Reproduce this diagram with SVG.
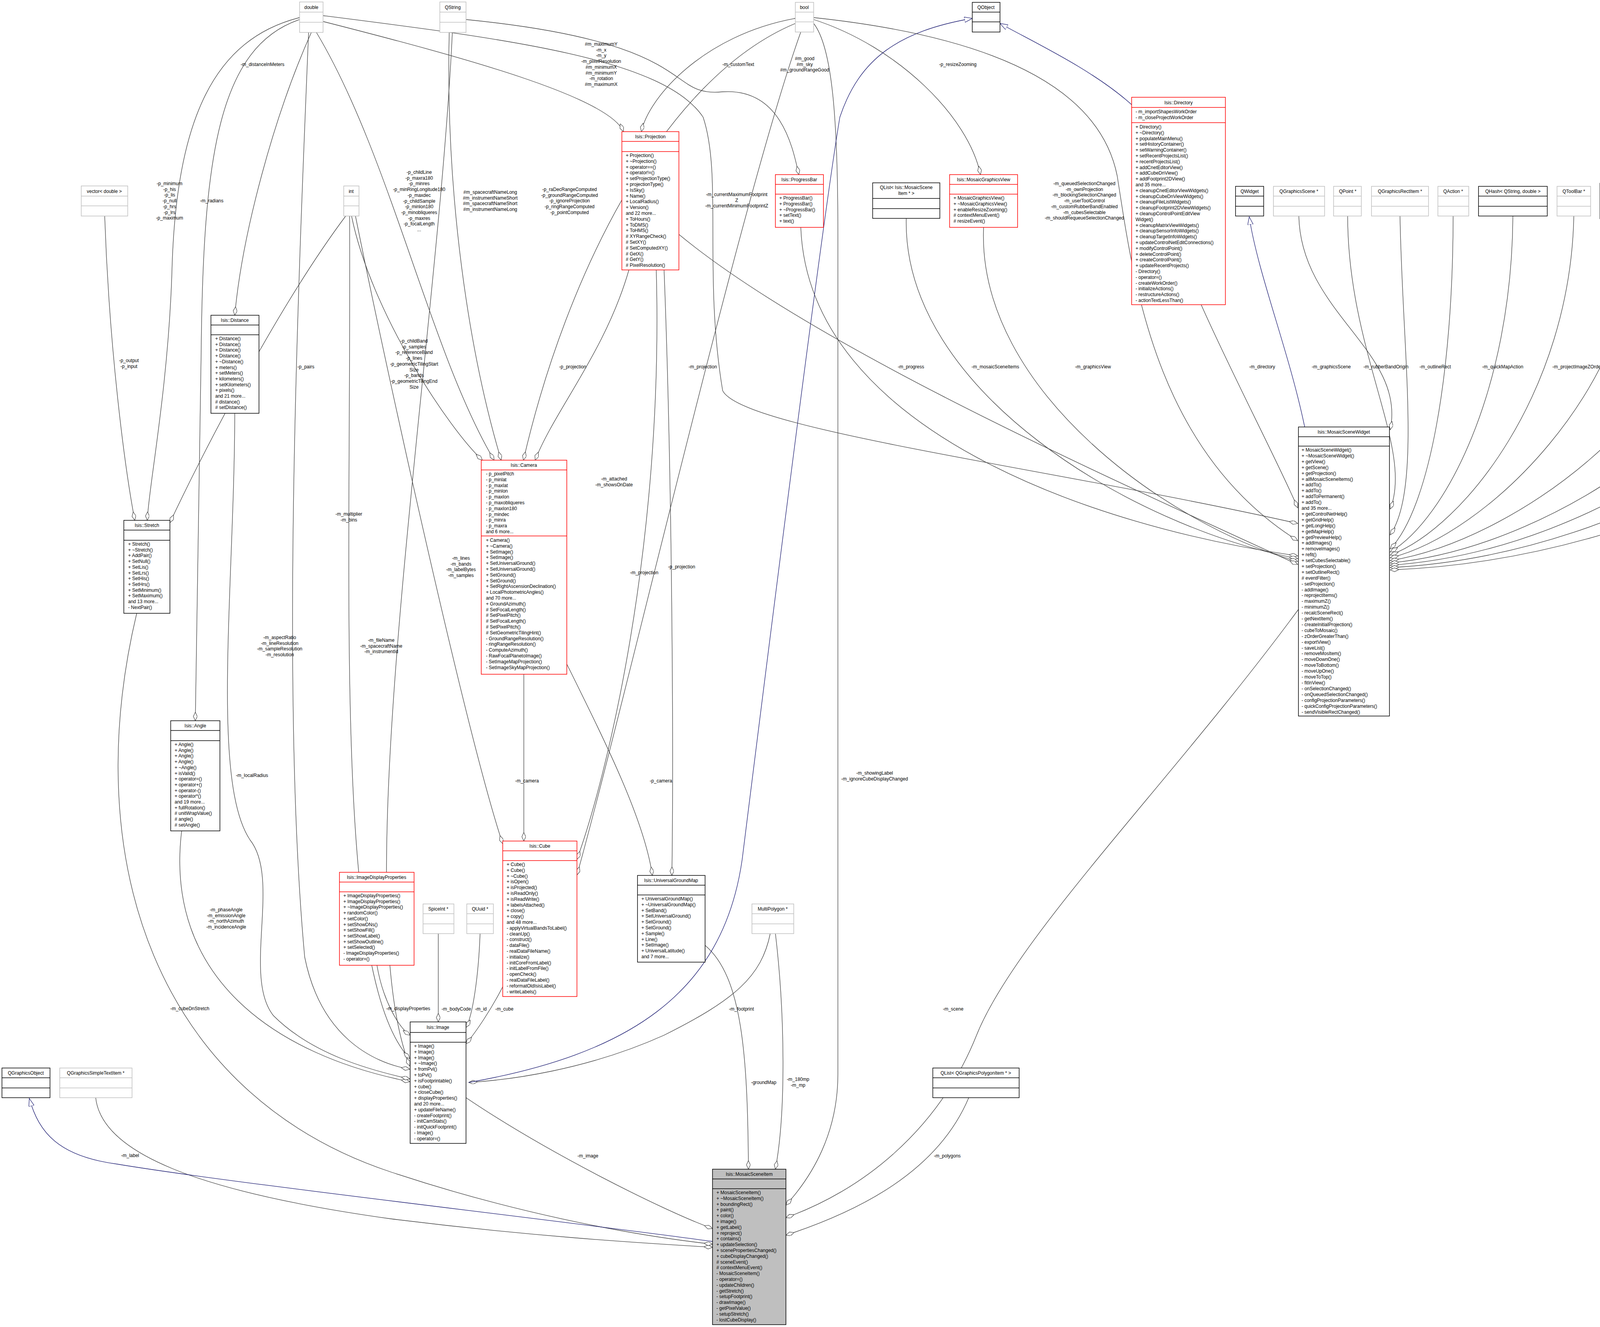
<svg xmlns="http://www.w3.org/2000/svg" width="5173" height="3397" viewBox="0 0 5173 3397">
<style>
text{font-family:"Liberation Sans",Arial,Helvetica,sans-serif;font-size:12px;fill:#000}
.c{text-anchor:middle}
.g{fill:#fff;stroke:#bfbfbf;stroke-width:1.5}
.k{fill:#fff;stroke:#000;stroke-width:1.5}
.r{fill:#fff;stroke:#f00;stroke-width:1.5}
.s{fill:#bfbfbf;stroke:#000;stroke-width:1.5}
.gl{stroke:#bfbfbf;stroke-width:1.5}
.kl{stroke:#000;stroke-width:1.5}
.rl{stroke:#f00;stroke-width:1.5}
.e{fill:none;stroke:#404040;stroke-width:1.3;marker-end:url(#dia)}
.i{fill:none;stroke:#191970;stroke-width:1.3;marker-end:url(#tri)}
</style>
<defs>
<marker id="dia" markerUnits="userSpaceOnUse" markerWidth="24" markerHeight="12" refX="22" refY="5" orient="auto"><path d="M0,5 L11,0 L22,5 L11,10 Z" fill="#fff" stroke="#404040" stroke-width="1.2"/></marker>
<marker id="tri" markerUnits="userSpaceOnUse" markerWidth="22" markerHeight="16" refX="20" refY="7" orient="auto"><path d="M0,0 L20,7 L0,14 Z" fill="#fff" stroke="#191970" stroke-width="1.2"/></marker>
</defs>
<rect width="5173" height="3397" fill="#fff"/>
<g id="edges">
<path class="e" d="M827,55 C1200,150 1560,250 1596,337"/>
<path class="e" d="M2036,47 C1800,90 1660,250 1642,337"/>
<path class="e" d="M1193,50 C1800,110 1700,250 1850,235 C2000,225 2030,380 2045,447"/>
<path class="e" d="M2083,50 C2300,120 2480,300 2510,447"/>
<path class="e" d="M810,83 C1000,400 1100,900 1265,1178"/>
<path class="e" d="M1150,83 C1140,500 1200,900 1283,1178"/>
<path class="e" d="M2036,60 C1700,200 1450,700 1340,1178"/>
<path class="e" d="M900,553 C950,800 1150,1100 1235,1178"/>
<path class="e" d="M1610,691 C1550,900 1420,1050 1370,1178"/>
<path class="e" d="M268,553 C280,900 320,1200 345,1332"/>
<path class="e" d="M767,45 C550,100 450,300 440,700 C430,1000 380,1250 377,1332"/>
<path class="e" d="M885,553 C700,800 500,1200 435,1338"/>
<path class="e" d="M797,83 C700,300 620,600 601,807"/>
<path class="e" d="M767,50 C560,120 520,400 515,900 C510,1400 500,1700 500,1845"/>
<path class="e" d="M910,553 C1000,1000 1200,1900 1287,2160"/>
<path class="e" d="M1341,1726 L1341,2153"/>
<path class="e" d="M1680,691 C1700,1400 1550,2000 1477,2200"/>
<path class="e" d="M2050,82 C1900,500 1600,1800 1477,2240"/>
<path class="e" d="M1451,1700 C1550,1900 1650,2100 1670,2241"/>
<path class="e" d="M1700,691 C1720,1200 1725,1900 1720,2241"/>
<path class="e" d="M965,2471 C980,2560 1020,2630 1050,2650"/>
<path class="e" d="M1122,2390 L1122,2616"/>
<path class="e" d="M1229,2390 C1225,2500 1210,2600 1193,2630"/>
<path class="e" d="M1290,2520 C1260,2580 1220,2640 1193,2672"/>
<path class="e" d="M465,2127 C420,2500 700,2700 1049,2769"/>
<path class="e" d="M601,1058 C600,1500 540,2000 640,2150 C720,2250 620,2500 700,2600 C800,2700 950,2740 1049,2762"/>
<path class="e" d="M790,83 C760,800 720,1800 780,2450 C820,2650 950,2720 1049,2737"/>
<path class="e" d="M1158,83 C1120,900 880,2300 1049,2729"/>
<path class="e" d="M895,553 C900,1500 850,2500 1049,2710"/>
<path class="e" d="M1193,2810 C1400,2950 1700,3100 1824,3145"/>
<path class="e" d="M1972,2389 C1950,2500 1880,2560 1700,2650 C1500,2740 1300,2765 1200,2771"/>
<path class="e" d="M1805,2420 C1900,2500 1914,2700 1916,2993"/>
<path class="e" d="M1985,2389 C2010,2600 2012,2850 1985,2993"/>
<path class="e" d="M2083,60 C2130,120 2145,300 2145,600 L2145,2750 C2145,2900 2080,3010 2012,3085"/>
<path class="e" d="M3324,1560 C3000,2000 2600,2400 2500,2650 C2400,2900 2200,3050 2012,3117"/>
<path class="e" d="M2480,2810 C2400,3000 2200,3100 2012,3162"/>
<path class="e" d="M245,2810 C260,2950 500,3050 1000,3120 C1400,3170 1700,3185 1824,3193"/>
<path class="e" d="M350,1570 C200,2200 400,2800 1000,3000 C1300,3100 1600,3160 1824,3185"/>
<path class="i" d="M1824,3178 C1400,3120 600,3030 300,2980 C150,2960 100,2900 75,2812"/>
<path class="i" d="M1200,2771 C1600,2700 1850,2550 1900,2200 C1950,1800 2100,600 2150,300 C2200,150 2300,80 2489,47"/>
<path class="i" d="M2897,268 C2800,180 2650,110 2560,60"/>
<path class="i" d="M3340,1093 C3300,900 3220,700 3198,555"/>
<path class="e" d="M3075,780 C3150,950 3280,1200 3322,1300"/>
<path class="e" d="M2083,45 C2600,100 2820,250 2860,450 C2900,700 2950,1150 3322,1384"/>
<path class="e" d="M827,40 C1300,100 1700,150 1800,300 C1850,450 1800,700 1850,1000 C1900,1100 2700,1200 3322,1340"/>
<path class="e" d="M2050,582 C2070,1100 2800,1350 3322,1423"/>
<path class="e" d="M2320,559 C2310,1000 2900,1350 3322,1430"/>
<path class="e" d="M2518,582 C2500,1000 3000,1350 3322,1437"/>
<path class="e" d="M1738,600 C2100,900 2900,1250 3322,1445"/>
<path class="e" d="M3325,553 C3330,800 3600,900 3559,1100"/>
<path class="e" d="M3450,553 C3450,900 3620,1150 3559,1303"/>
<path class="e" d="M3584,553 C3590,900 3640,1250 3559,1369"/>
<path class="e" d="M3720,553 C3720,950 3660,1300 3559,1405"/>
<path class="e" d="M3873,553 C3870,1000 3700,1330 3559,1413"/>
<path class="e" d="M4029,553 C4020,1000 3750,1350 3559,1421"/>
<path class="e" d="M4197,560 C4190,1000 3800,1370 3559,1428"/>
<path class="e" d="M4412,553 C4400,1000 3900,1380 3559,1435"/>
<path class="e" d="M4578,560 C4570,1000 4000,1400 3559,1441"/>
<path class="e" d="M4710,553 C4700,1000 4100,1410 3559,1447"/>
<path class="e" d="M4845,626 C4840,1000 4200,1420 3559,1453"/>
<path class="e" d="M5030,553 C5040,1000 4300,1430 3559,1459"/>
</g>
<g id="labels">
<text class="c" x="672" y="169">-m_distanceInMeters</text>
<text class="c" x="434" y="474">-p_minimum<tspan x="434" dy="14.7">-p_his</tspan><tspan x="434" dy="14.7">-p_lis</tspan><tspan x="434" dy="14.7">-p_null</tspan><tspan x="434" dy="14.7">-p_hrs</tspan><tspan x="434" dy="14.7">-p_lrs</tspan><tspan x="434" dy="14.7">-p_maximum</tspan></text>
<text class="c" x="542" y="518">-m_radians</text>
<text class="c" x="1073" y="445">-p_childLine<tspan x="1073" dy="14.7">-p_maxra180</tspan><tspan x="1073" dy="14.7">-p_minres</tspan><tspan x="1073" dy="14.7">-p_minRingLongitude180</tspan><tspan x="1073" dy="14.7">-p_maxdec</tspan><tspan x="1073" dy="14.7">-p_childSample</tspan><tspan x="1073" dy="14.7">-p_minlon180</tspan><tspan x="1073" dy="14.7">-p_minobliqueres</tspan><tspan x="1073" dy="14.7">-p_maxres</tspan><tspan x="1073" dy="14.7">-p_focalLength</tspan><tspan x="1073" dy="14.7">...</tspan></text>
<text class="c" x="1255" y="496">#m_spacecraftNameLong<tspan x="1255" dy="14.7">#m_instrumentNameShort</tspan><tspan x="1255" dy="14.7">#m_spacecraftNameShort</tspan><tspan x="1255" dy="14.7">#m_instrumentNameLong</tspan></text>
<text class="c" x="1458" y="489">-p_raDecRangeComputed<tspan x="1458" dy="14.7">-p_groundRangeComputed</tspan><tspan x="1458" dy="14.7">-p_ignoreProjection</tspan><tspan x="1458" dy="14.7">-p_ringRangeComputed</tspan><tspan x="1458" dy="14.7">-p_pointComputed</tspan></text>
<text class="c" x="1539" y="117">#m_maximumY<tspan x="1539" dy="14.7">-m_x</tspan><tspan x="1539" dy="14.7">-m_y</tspan><tspan x="1539" dy="14.7">-m_pixelResolution</tspan><tspan x="1539" dy="14.7">#m_minimumX</tspan><tspan x="1539" dy="14.7">#m_minimumY</tspan><tspan x="1539" dy="14.7">-m_rotation</tspan><tspan x="1539" dy="14.7">#m_maximumX</tspan></text>
<text class="c" x="1890" y="169">-m_customText</text>
<text class="c" x="2060" y="154">#m_good<tspan x="2060" dy="14.7">#m_sky</tspan><tspan x="2060" dy="14.7">#m_groundRangeGood</tspan></text>
<text class="c" x="2452" y="169">-p_resizeZooming</text>
<text class="c" x="1886" y="502">-m_currentMaximumFootprint<tspan x="1886" dy="14.7">Z</tspan><tspan x="1886" dy="14.7">-m_currentMinimumFootprintZ</tspan></text>
<text class="c" x="2776" y="474">-m_queuedSelectionChanged<tspan x="2776" dy="14.7">-m_ownProjection</tspan><tspan x="2776" dy="14.7">-m_blockingSelectionChanged</tspan><tspan x="2776" dy="14.7">-m_userToolControl</tspan><tspan x="2776" dy="14.7">-m_customRubberBandEnabled</tspan><tspan x="2776" dy="14.7">-m_cubesSelectable</tspan><tspan x="2776" dy="14.7">-m_shouldRequeueSelectionChanged</tspan></text>
<text class="c" x="1060" y="877">-p_childBand<tspan x="1060" dy="14.7">-p_samples</tspan><tspan x="1060" dy="14.7">-p_referenceBand</tspan><tspan x="1060" dy="14.7">-p_lines</tspan><tspan x="1060" dy="14.7">-p_geometricTilingStart</tspan><tspan x="1060" dy="14.7">Size</tspan><tspan x="1060" dy="14.7">-p_bands</tspan><tspan x="1060" dy="14.7">-p_geometricTilingEnd</tspan><tspan x="1060" dy="14.7">Size</tspan></text>
<text class="c" x="330" y="927">-p_output<tspan x="330" dy="14.7">-p_input</tspan></text>
<text class="c" x="783" y="943">-p_pairs</text>
<text class="c" x="1466" y="943">-p_projection</text>
<text class="c" x="1799" y="943">-m_projection</text>
<text class="c" x="2332" y="943">-m_progress</text>
<text class="c" x="2548" y="943">-m_mosaicSceneItems</text>
<text class="c" x="2798" y="943">-m_graphicsView</text>
<text class="c" x="3231" y="943">-m_directory</text>
<text class="c" x="3408" y="943">-m_graphicsScene</text>
<text class="c" x="3548" y="943">-m_rubberBandOrigin</text>
<text class="c" x="3674" y="943">-m_outlineRect</text>
<text class="c" x="3847" y="943">-m_quickMapAction</text>
<text class="c" x="4041" y="943">-m_projectImageZOrders</text>
<text class="c" x="4157" y="943">-m_pointToolbar<tspan x="4157" dy="14.7">-m_activeToolbar</tspan></text>
<text class="c" x="4364" y="943">-m_displayPropsToMosaicScene<tspan x="4364" dy="14.7">ItemMap</tspan></text>
<text class="c" x="4540" y="943">-m_tools</text>
<text class="c" x="4650" y="943">-m_toolpad</text>
<text class="c" x="4813" y="943">-m_customRubberBand</text>
<text class="c" x="4985" y="943">-m_projectViewTransform</text>
<text class="c" x="5128" y="943">-m_mapButton</text>
<text class="c" x="1572" y="1230">-m_attached<tspan x="1572" dy="14.7">-m_showsOnDate</tspan></text>
<text class="c" x="1180" y="1433">-m_lines<tspan x="1180" dy="14.7">-m_bands</tspan><tspan x="1180" dy="14.7">-m_labelBytes</tspan><tspan x="1180" dy="14.7">-m_samples</tspan></text>
<text class="c" x="893" y="1320">-m_multiplier<tspan x="893" dy="14.7">-m_bins</tspan></text>
<text class="c" x="1649" y="1470">-m_projection</text>
<text class="c" x="1745" y="1455">-p_projection</text>
<text class="c" x="716" y="1636">-m_aspectRatio<tspan x="716" dy="14.7">-m_lineResolution</tspan><tspan x="716" dy="14.7">-m_sampleResolution</tspan><tspan x="716" dy="14.7">-m_resolution</tspan></text>
<text class="c" x="976" y="1643">-m_fileName<tspan x="976" dy="14.7">-m_spacecraftName</tspan><tspan x="976" dy="14.7">-m_instrumentId</tspan></text>
<text class="c" x="645" y="1989">-m_localRadius</text>
<text class="c" x="1349" y="2003">-m_camera</text>
<text class="c" x="1692" y="2003">-p_camera</text>
<text class="c" x="2239" y="1983">-m_showingLabel<tspan x="2239" dy="14.7">-m_ignoreCubeDisplayChanged</tspan></text>
<text class="c" x="579" y="2333">-m_phaseAngle<tspan x="579" dy="14.7">-m_emissionAngle</tspan><tspan x="579" dy="14.7">-m_northAzimuth</tspan><tspan x="579" dy="14.7">-m_incidenceAngle</tspan></text>
<text class="c" x="486" y="2586">-m_cubeDnStretch</text>
<text class="c" x="1045" y="2586">-m_displayProperties</text>
<text class="c" x="1168" y="2587">-m_bodyCode</text>
<text class="c" x="1231" y="2587">-m_id</text>
<text class="c" x="1291" y="2587">-m_cube</text>
<text class="c" x="1898" y="2587">-m_footprint</text>
<text class="c" x="2440" y="2587">-m_scene</text>
<text class="c" x="1955" y="2775">-groundMap</text>
<text class="c" x="2043" y="2767">-m_180mp<tspan x="2043" dy="14.7">-m_mp</tspan></text>
<text class="c" x="333" y="2962">-m_label</text>
<text class="c" x="1505" y="2963">-m_image</text>
<text class="c" x="2425" y="2963">-m_polygons</text>
</g>
<g id="n_double"><rect class="g" x="767" y="5" width="60" height="78"/><line class="gl" x1="767" y1="31" x2="827" y2="31"/><line class="gl" x1="767" y1="57" x2="827" y2="57"/><text class="c" x="797" y="23">double</text></g>
<g id="n_qstring"><rect class="g" x="1126" y="5" width="67" height="78"/><line class="gl" x1="1126" y1="31" x2="1193" y2="31"/><line class="gl" x1="1126" y1="57" x2="1193" y2="57"/><text class="c" x="1159" y="23">QString</text></g>
<g id="n_bool"><rect class="g" x="2036" y="6" width="47" height="76"/><line class="gl" x1="2036" y1="31" x2="2083" y2="31"/><line class="gl" x1="2036" y1="56" x2="2083" y2="56"/><text class="c" x="2059" y="23">bool</text></g>
<g id="n_qobject"><rect class="k" x="2489" y="6" width="71" height="76"/><line class="kl" x1="2489" y1="31" x2="2560" y2="31"/><line class="kl" x1="2489" y1="56" x2="2560" y2="56"/><text class="c" x="2524" y="23">QObject</text></g>
<g id="n_vector"><rect class="g" x="208" y="476" width="119" height="77"/><line class="gl" x1="208" y1="502" x2="327" y2="502"/><line class="gl" x1="208" y1="527" x2="327" y2="527"/><text class="c" x="267" y="494">vector&lt; double &gt;</text></g>
<g id="n_int"><rect class="g" x="880" y="476" width="39" height="77"/><line class="gl" x1="880" y1="502" x2="919" y2="502"/><line class="gl" x1="880" y1="527" x2="919" y2="527"/><text class="c" x="899" y="494">int</text></g>
<g id="n_projection"><rect class="r" x="1592" y="337" width="146" height="354"/><line class="rl" x1="1592" y1="362" x2="1738" y2="362"/><line class="rl" x1="1592" y1="388" x2="1738" y2="388"/><text class="c" x="1665" y="354">Isis::Projection</text>
<text x="1602" y="402">+ Projection()<tspan x="1602" dy="14.8">+ ~Projection()</tspan><tspan x="1602" dy="14.8">+ operator==()</tspan><tspan x="1602" dy="14.8">+ operator!=()</tspan><tspan x="1602" dy="14.8">+ setProjectionType()</tspan><tspan x="1602" dy="14.8">+ projectionType()</tspan><tspan x="1602" dy="14.8">+ IsSky()</tspan><tspan x="1602" dy="14.8">+ Name()</tspan><tspan x="1602" dy="14.8">+ LocalRadius()</tspan><tspan x="1602" dy="14.8">+ Version()</tspan><tspan x="1602" dy="14.8">and 22 more...</tspan><tspan x="1602" dy="14.8">+ ToHours()</tspan><tspan x="1602" dy="14.8">+ ToDMS()</tspan><tspan x="1602" dy="14.8">+ ToHMS()</tspan><tspan x="1602" dy="14.8"># XYRangeCheck()</tspan><tspan x="1602" dy="14.8"># SetXY()</tspan><tspan x="1602" dy="14.8"># SetComputedXY()</tspan><tspan x="1602" dy="14.8"># GetX()</tspan><tspan x="1602" dy="14.8"># GetY()</tspan><tspan x="1602" dy="14.8"># PixelResolution()</tspan></text></g>
<g id="n_progressbar"><rect class="r" x="1985" y="447" width="123" height="135"/><line class="rl" x1="1985" y1="472" x2="2108" y2="472"/><line class="rl" x1="1985" y1="497" x2="2108" y2="497"/><text class="c" x="2046" y="464">Isis::ProgressBar</text>
<text x="1995" y="511">+ ProgressBar()<tspan x="1995" dy="14.8">+ ProgressBar()</tspan><tspan x="1995" dy="14.8">+ ~ProgressBar()</tspan><tspan x="1995" dy="14.8">+ setText()</tspan><tspan x="1995" dy="14.8">+ text()</tspan></text></g>
<g id="n_qlistmsi"><rect class="k" x="2234" y="468" width="172" height="91"/><line class="kl" x1="2234" y1="508" x2="2406" y2="508"/><line class="kl" x1="2234" y1="534" x2="2406" y2="534"/><text class="c" x="2320" y="484">QList&lt; Isis::MosaicScene<tspan x="2320" dy="15">Item * &gt;</tspan></text></g>
<g id="n_mgv"><rect class="r" x="2431" y="447" width="174" height="135"/><line class="rl" x1="2431" y1="472" x2="2605" y2="472"/><line class="rl" x1="2431" y1="497" x2="2605" y2="497"/><text class="c" x="2518" y="464">Isis::MosaicGraphicsView</text>
<text x="2441" y="511">+ MosaicGraphicsView()<tspan x="2441" dy="14.8">+ ~MosaicGraphicsView()</tspan><tspan x="2441" dy="14.8">+ enableResizeZooming()</tspan><tspan x="2441" dy="14.8"># contextMenuEvent()</tspan><tspan x="2441" dy="14.8"># resizeEvent()</tspan></text></g>
<g id="n_directory"><rect class="r" x="2897" y="249" width="240" height="531"/><line class="rl" x1="2897" y1="275" x2="3137" y2="275"/><line class="rl" x1="2897" y1="314" x2="3137" y2="314"/><text class="c" x="3017" y="267">Isis::Directory</text>
<text x="2907" y="290">- m_importShapesWorkOrder<tspan x="2907" dy="14.8">- m_closeProjectWorkOrder</tspan></text>
<text x="2907" y="329">+ Directory()<tspan x="2907" dy="14.8">+ ~Directory()</tspan><tspan x="2907" dy="14.8">+ populateMainMenu()</tspan><tspan x="2907" dy="14.8">+ setHistoryContainer()</tspan><tspan x="2907" dy="14.8">+ setWarningContainer()</tspan><tspan x="2907" dy="14.8">+ setRecentProjectsList()</tspan><tspan x="2907" dy="14.8">+ recentProjectsList()</tspan><tspan x="2907" dy="14.8">+ addCnetEditorView()</tspan><tspan x="2907" dy="14.8">+ addCubeDnView()</tspan><tspan x="2907" dy="14.8">+ addFootprint2DView()</tspan><tspan x="2907" dy="14.8">and 35 more...</tspan><tspan x="2907" dy="14.8">+ cleanupCnetEditorViewWidgets()</tspan><tspan x="2907" dy="14.8">+ cleanupCubeDnViewWidgets()</tspan><tspan x="2907" dy="14.8">+ cleanupFileListWidgets()</tspan><tspan x="2907" dy="14.8">+ cleanupFootprint2DViewWidgets()</tspan><tspan x="2907" dy="14.8">+ cleanupControlPointEditView</tspan><tspan x="2907" dy="14.8">Widget()</tspan><tspan x="2907" dy="14.8">+ cleanupMatrixViewWidgets()</tspan><tspan x="2907" dy="14.8">+ cleanupSensorInfoWidgets()</tspan><tspan x="2907" dy="14.8">+ cleanupTargetInfoWidgets()</tspan><tspan x="2907" dy="14.8">+ updateControlNetEditConnections()</tspan><tspan x="2907" dy="14.8">+ modifyControlPoint()</tspan><tspan x="2907" dy="14.8">+ deleteControlPoint()</tspan><tspan x="2907" dy="14.8">+ createControlPoint()</tspan><tspan x="2907" dy="14.8">+ updateRecentProjects()</tspan><tspan x="2907" dy="14.8">- Directory()</tspan><tspan x="2907" dy="14.8">- operator=()</tspan><tspan x="2907" dy="14.8">- createWorkOrder()</tspan><tspan x="2907" dy="14.8">- initializeActions()</tspan><tspan x="2907" dy="14.8">- restructureActions()</tspan><tspan x="2907" dy="14.8">- actionTextLessThan()</tspan></text></g>
<g id="n_qwidget"><rect class="k" x="3163" y="477" width="72" height="76"/><line class="kl" x1="3163" y1="502" x2="3235" y2="502"/><line class="kl" x1="3163" y1="528" x2="3235" y2="528"/><text class="c" x="3199" y="494">QWidget</text></g>
<g id="n_qgscene"><rect class="g" x="3260" y="477" width="131" height="76"/><line class="gl" x1="3260" y1="502" x2="3391" y2="502"/><line class="gl" x1="3260" y1="528" x2="3391" y2="528"/><text class="c" x="3325" y="494">QGraphicsScene *</text></g>
<g id="n_qpoint"><rect class="g" x="3414" y="477" width="71" height="76"/><line class="gl" x1="3414" y1="502" x2="3485" y2="502"/><line class="gl" x1="3414" y1="528" x2="3485" y2="528"/><text class="c" x="3450" y="494">QPoint *</text></g>
<g id="n_qgrect"><rect class="g" x="3511" y="477" width="146" height="76"/><line class="gl" x1="3511" y1="502" x2="3657" y2="502"/><line class="gl" x1="3511" y1="528" x2="3657" y2="528"/><text class="c" x="3584" y="494">QGraphicsRectItem *</text></g>
<g id="n_qaction"><rect class="g" x="3681" y="477" width="79" height="76"/><line class="gl" x1="3681" y1="502" x2="3760" y2="502"/><line class="gl" x1="3681" y1="528" x2="3760" y2="528"/><text class="c" x="3720" y="494">QAction *</text></g>
<g id="n_qhash"><rect class="k" x="3785" y="477" width="176" height="76"/><line class="kl" x1="3785" y1="502" x2="3961" y2="502"/><line class="kl" x1="3785" y1="528" x2="3961" y2="528"/><text class="c" x="3873" y="494">QHash&lt; QString, double &gt;</text></g>
<g id="n_qtoolbar"><rect class="g" x="3986" y="477" width="86" height="76"/><line class="gl" x1="3986" y1="502" x2="4072" y2="502"/><line class="gl" x1="3986" y1="528" x2="4072" y2="528"/><text class="c" x="4029" y="494">QToolBar *</text></g>
<g id="n_qmap"><rect class="k" x="4096" y="469" width="202" height="91"/><line class="kl" x1="4096" y1="511" x2="4298" y2="511"/><line class="kl" x1="4096" y1="535" x2="4298" y2="535"/><text class="c" x="4197" y="485">QMap&lt; Isis::DisplayProperties<tspan x="4197" dy="15"> *, Isis::MosaicSceneItem * &gt;</tspan></text></g>
<g id="n_qlisttool"><rect class="k" x="4321" y="477" width="182" height="76"/><line class="kl" x1="4321" y1="502" x2="4503" y2="502"/><line class="kl" x1="4321" y1="528" x2="4503" y2="528"/><text class="c" x="4412" y="494">QList&lt; Isis::MosaicTool * &gt;</text></g>
<g id="n_toolpad"><rect class="r" x="4529" y="469" width="99" height="91"/><line class="rl" x1="4529" y1="494" x2="4628" y2="494"/><line class="rl" x1="4529" y1="519" x2="4628" y2="519"/><text class="c" x="4578" y="486">Isis::ToolPad</text><text x="4537" y="534">+ ToolPad()<tspan x="4537" dy="14.8">+ addAction()</tspan></text></g>
<g id="n_qrubber"><rect class="g" x="4653" y="477" width="113" height="76"/><line class="gl" x1="4653" y1="502" x2="4766" y2="502"/><line class="gl" x1="4653" y1="528" x2="4766" y2="528"/><text class="c" x="4710" y="494">QRubberBand *</text></g>
<g id="n_pvlobject"><rect class="r" x="4792" y="403" width="107" height="223"/><line class="rl" x1="4792" y1="428" x2="4899" y2="428"/><line class="rl" x1="4792" y1="452" x2="4899" y2="452"/><text class="c" x="4845" y="420">Isis::PvlObject</text>
<text x="4800" y="466">+ PvlObject()<tspan x="4800" dy="14.8">+ PvlObject()</tspan><tspan x="4800" dy="14.8">+ PvlObject()</tspan><tspan x="4800" dy="14.8">+ groups()</tspan><tspan x="4800" dy="14.8">+ group()</tspan><tspan x="4800" dy="14.8">+ group()</tspan><tspan x="4800" dy="14.8">+ beginGroup()</tspan><tspan x="4800" dy="14.8">+ beginGroup()</tspan><tspan x="4800" dy="14.8">+ endGroup()</tspan><tspan x="4800" dy="14.8">+ endGroup()</tspan><tspan x="4800" dy="14.8">and 31 more...</tspan></text></g>
<g id="n_qtoolbutton"><rect class="g" x="4979" y="477" width="103" height="76"/><line class="gl" x1="4979" y1="502" x2="5082" y2="502"/><line class="gl" x1="4979" y1="528" x2="5082" y2="528"/><text class="c" x="5030" y="494">QToolButton *</text></g>
<g id="n_msw"><rect class="k" x="3324" y="1093" width="233" height="740"/><line class="kl" x1="3324" y1="1118" x2="3557" y2="1118"/><line class="kl" x1="3324" y1="1142" x2="3557" y2="1142"/><text class="c" x="3440" y="1110">Isis::MosaicSceneWidget</text>
<text x="3332" y="1156">+ MosaicSceneWidget()<tspan x="3332" dy="14.9">+ ~MosaicSceneWidget()</tspan><tspan x="3332" dy="14.9">+ getView()</tspan><tspan x="3332" dy="14.9">+ getScene()</tspan><tspan x="3332" dy="14.9">+ getProjection()</tspan><tspan x="3332" dy="14.9">+ allMosaicSceneItems()</tspan><tspan x="3332" dy="14.9">+ addTo()</tspan><tspan x="3332" dy="14.9">+ addTo()</tspan><tspan x="3332" dy="14.9">+ addToPermanent()</tspan><tspan x="3332" dy="14.9">+ addTo()</tspan><tspan x="3332" dy="14.9">and 35 more...</tspan><tspan x="3332" dy="14.9">+ getControlNetHelp()</tspan><tspan x="3332" dy="14.9">+ getGridHelp()</tspan><tspan x="3332" dy="14.9">+ getLongHelp()</tspan><tspan x="3332" dy="14.9">+ getMapHelp()</tspan><tspan x="3332" dy="14.9">+ getPreviewHelp()</tspan><tspan x="3332" dy="14.9">+ addImages()</tspan><tspan x="3332" dy="14.9">+ removeImages()</tspan><tspan x="3332" dy="14.9">+ refit()</tspan><tspan x="3332" dy="14.9">+ setCubesSelectable()</tspan><tspan x="3332" dy="14.9">+ setProjection()</tspan><tspan x="3332" dy="14.9">+ setOutlineRect()</tspan><tspan x="3332" dy="14.9"># eventFilter()</tspan><tspan x="3332" dy="14.9">- setProjection()</tspan><tspan x="3332" dy="14.9">- addImage()</tspan><tspan x="3332" dy="14.9">- reprojectItems()</tspan><tspan x="3332" dy="14.9">- maximumZ()</tspan><tspan x="3332" dy="14.9">- minimumZ()</tspan><tspan x="3332" dy="14.9">- recalcSceneRect()</tspan><tspan x="3332" dy="14.9">- getNextItem()</tspan><tspan x="3332" dy="14.9">- createInitialProjection()</tspan><tspan x="3332" dy="14.9">- cubeToMosaic()</tspan><tspan x="3332" dy="14.9">- zOrderGreaterThan()</tspan><tspan x="3332" dy="14.9">- exportView()</tspan><tspan x="3332" dy="14.9">- saveList()</tspan><tspan x="3332" dy="14.9">- removeMosItem()</tspan><tspan x="3332" dy="14.9">- moveDownOne()</tspan><tspan x="3332" dy="14.9">- moveToBottom()</tspan><tspan x="3332" dy="14.9">- moveUpOne()</tspan><tspan x="3332" dy="14.9">- moveToTop()</tspan><tspan x="3332" dy="14.9">- fitInView()</tspan><tspan x="3332" dy="14.9">- onSelectionChanged()</tspan><tspan x="3332" dy="14.9">- onQueuedSelectionChanged()</tspan><tspan x="3332" dy="14.9">- configProjectionParameters()</tspan><tspan x="3332" dy="14.9">- quickConfigProjectionParameters()</tspan><tspan x="3332" dy="14.9">- sendVisibleRectChanged()</tspan></text></g>
<g id="n_camera"><rect class="r" x="1232" y="1178" width="219" height="548"/><line class="rl" x1="1232" y1="1203" x2="1451" y2="1203"/><line class="rl" x1="1232" y1="1372" x2="1451" y2="1372"/><text class="c" x="1341" y="1195">Isis::Camera</text>
<text x="1244" y="1217">- p_pixelPitch<tspan x="1244" dy="14.8">- p_minlat</tspan><tspan x="1244" dy="14.8">- p_maxlat</tspan><tspan x="1244" dy="14.8">- p_minlon</tspan><tspan x="1244" dy="14.8">- p_maxlon</tspan><tspan x="1244" dy="14.8">- p_maxobliqueres</tspan><tspan x="1244" dy="14.8">- p_maxlon180</tspan><tspan x="1244" dy="14.8">- p_mindec</tspan><tspan x="1244" dy="14.8">- p_minra</tspan><tspan x="1244" dy="14.8">- p_maxra</tspan><tspan x="1244" dy="14.8">and 6 more...</tspan></text>
<text x="1244" y="1387">+ Camera()<tspan x="1244" dy="14.8">+ ~Camera()</tspan><tspan x="1244" dy="14.8">+ SetImage()</tspan><tspan x="1244" dy="14.8">+ SetImage()</tspan><tspan x="1244" dy="14.8">+ SetUniversalGround()</tspan><tspan x="1244" dy="14.8">+ SetUniversalGround()</tspan><tspan x="1244" dy="14.8">+ SetGround()</tspan><tspan x="1244" dy="14.8">+ SetGround()</tspan><tspan x="1244" dy="14.8">+ SetRightAscensionDeclination()</tspan><tspan x="1244" dy="14.8">+ LocalPhotometricAngles()</tspan><tspan x="1244" dy="14.8">and 70 more...</tspan><tspan x="1244" dy="14.8">+ GroundAzimuth()</tspan><tspan x="1244" dy="14.8"># SetFocalLength()</tspan><tspan x="1244" dy="14.8"># SetPixelPitch()</tspan><tspan x="1244" dy="14.8"># SetFocalLength()</tspan><tspan x="1244" dy="14.8"># SetPixelPitch()</tspan><tspan x="1244" dy="14.8"># SetGeometricTilingHint()</tspan><tspan x="1244" dy="14.8">- GroundRangeResolution()</tspan><tspan x="1244" dy="14.8">- ringRangeResolution()</tspan><tspan x="1244" dy="14.8">- ComputeAzimuth()</tspan><tspan x="1244" dy="14.8">- RawFocalPlanetoImage()</tspan><tspan x="1244" dy="14.8">- SetImageMapProjection()</tspan><tspan x="1244" dy="14.8">- SetImageSkyMapProjection()</tspan></text></g>
<g id="n_distance"><rect class="k" x="540" y="807" width="123" height="251"/><line class="kl" x1="540" y1="832" x2="663" y2="832"/><line class="kl" x1="540" y1="857" x2="663" y2="857"/><text class="c" x="601" y="824">Isis::Distance</text>
<text x="551" y="871">+ Distance()<tspan x="551" dy="14.7">+ Distance()</tspan><tspan x="551" dy="14.7">+ Distance()</tspan><tspan x="551" dy="14.7">+ Distance()</tspan><tspan x="551" dy="14.7">+ ~Distance()</tspan><tspan x="551" dy="14.7">+ meters()</tspan><tspan x="551" dy="14.7">+ setMeters()</tspan><tspan x="551" dy="14.7">+ kilometers()</tspan><tspan x="551" dy="14.7">+ setKilometers()</tspan><tspan x="551" dy="14.7">+ pixels()</tspan><tspan x="551" dy="14.7">and 21 more...</tspan><tspan x="551" dy="14.7"># distance()</tspan><tspan x="551" dy="14.7"># setDistance()</tspan></text></g>
<g id="n_stretch"><rect class="k" x="317" y="1332" width="118" height="238"/><line class="kl" x1="317" y1="1357" x2="435" y2="1357"/><line class="kl" x1="317" y1="1383" x2="435" y2="1383"/><text class="c" x="376" y="1349">Isis::Stretch</text>
<text x="328" y="1397">+ Stretch()<tspan x="328" dy="14.7">+ ~Stretch()</tspan><tspan x="328" dy="14.7">+ AddPair()</tspan><tspan x="328" dy="14.7">+ SetNull()</tspan><tspan x="328" dy="14.7">+ SetLis()</tspan><tspan x="328" dy="14.7">+ SetLrs()</tspan><tspan x="328" dy="14.7">+ SetHis()</tspan><tspan x="328" dy="14.7">+ SetHrs()</tspan><tspan x="328" dy="14.7">+ SetMinimum()</tspan><tspan x="328" dy="14.7">+ SetMaximum()</tspan><tspan x="328" dy="14.7">and 13 more...</tspan><tspan x="328" dy="14.7">- NextPair()</tspan></text></g>
<g id="n_angle"><rect class="k" x="437" y="1845" width="126" height="282"/><line class="kl" x1="437" y1="1870" x2="563" y2="1870"/><line class="kl" x1="437" y1="1896" x2="563" y2="1896"/><text class="c" x="500" y="1862">Isis::Angle</text>
<text x="447" y="1910">+ Angle()<tspan x="447" dy="14.7">+ Angle()</tspan><tspan x="447" dy="14.7">+ Angle()</tspan><tspan x="447" dy="14.7">+ Angle()</tspan><tspan x="447" dy="14.7">+ ~Angle()</tspan><tspan x="447" dy="14.7">+ isValid()</tspan><tspan x="447" dy="14.7">+ operator=()</tspan><tspan x="447" dy="14.7">+ operator+()</tspan><tspan x="447" dy="14.7">+ operator-()</tspan><tspan x="447" dy="14.7">+ operator*()</tspan><tspan x="447" dy="14.7">and 19 more...</tspan><tspan x="447" dy="14.7">+ fullRotation()</tspan><tspan x="447" dy="14.7"># unitWrapValue()</tspan><tspan x="447" dy="14.7"># angle()</tspan><tspan x="447" dy="14.7"># setAngle()</tspan></text></g>
<g id="n_idp"><rect class="r" x="869" y="2233" width="191" height="238"/><line class="rl" x1="869" y1="2258" x2="1060" y2="2258"/><line class="rl" x1="869" y1="2283" x2="1060" y2="2283"/><text class="c" x="964" y="2250">Isis::ImageDisplayProperties</text>
<text x="879" y="2297">+ ImageDisplayProperties()<tspan x="879" dy="14.7">+ ImageDisplayProperties()</tspan><tspan x="879" dy="14.7">+ ~ImageDisplayProperties()</tspan><tspan x="879" dy="14.7">+ randomColor()</tspan><tspan x="879" dy="14.7">+ setColor()</tspan><tspan x="879" dy="14.7">+ setShowDNs()</tspan><tspan x="879" dy="14.7">+ setShowFill()</tspan><tspan x="879" dy="14.7">+ setShowLabel()</tspan><tspan x="879" dy="14.7">+ setShowOutline()</tspan><tspan x="879" dy="14.7">+ setSelected()</tspan><tspan x="879" dy="14.7">- ImageDisplayProperties()</tspan><tspan x="879" dy="14.7">- operator=()</tspan></text></g>
<g id="n_spiceint"><rect class="g" x="1083" y="2314" width="79" height="76"/><line class="gl" x1="1083" y1="2339" x2="1162" y2="2339"/><line class="gl" x1="1083" y1="2365" x2="1162" y2="2365"/><text class="c" x="1122" y="2331">SpiceInt *</text></g>
<g id="n_quuid"><rect class="g" x="1195" y="2314" width="68" height="76"/><line class="gl" x1="1195" y1="2339" x2="1263" y2="2339"/><line class="gl" x1="1195" y1="2365" x2="1263" y2="2365"/><text class="c" x="1229" y="2331">QUuid *</text></g>
<g id="n_cube"><rect class="r" x="1287" y="2153" width="190" height="398"/><line class="rl" x1="1287" y1="2178" x2="1477" y2="2178"/><line class="rl" x1="1287" y1="2203" x2="1477" y2="2203"/><text class="c" x="1382" y="2170">Isis::Cube</text>
<text x="1297" y="2217">+ Cube()<tspan x="1297" dy="14.8">+ Cube()</tspan><tspan x="1297" dy="14.8">+ ~Cube()</tspan><tspan x="1297" dy="14.8">+ isOpen()</tspan><tspan x="1297" dy="14.8">+ isProjected()</tspan><tspan x="1297" dy="14.8">+ isReadOnly()</tspan><tspan x="1297" dy="14.8">+ isReadWrite()</tspan><tspan x="1297" dy="14.8">+ labelsAttached()</tspan><tspan x="1297" dy="14.8">+ close()</tspan><tspan x="1297" dy="14.8">+ copy()</tspan><tspan x="1297" dy="14.8">and 48 more...</tspan><tspan x="1297" dy="14.8">- applyVirtualBandsToLabel()</tspan><tspan x="1297" dy="14.8">- cleanUp()</tspan><tspan x="1297" dy="14.8">- construct()</tspan><tspan x="1297" dy="14.8">- dataFile()</tspan><tspan x="1297" dy="14.8">- realDataFileName()</tspan><tspan x="1297" dy="14.8">- initialize()</tspan><tspan x="1297" dy="14.8">- initCoreFromLabel()</tspan><tspan x="1297" dy="14.8">- initLabelFromFile()</tspan><tspan x="1297" dy="14.8">- openCheck()</tspan><tspan x="1297" dy="14.8">- realDataFileLabel()</tspan><tspan x="1297" dy="14.8">- reformatOldIsisLabel()</tspan><tspan x="1297" dy="14.8">- writeLabels()</tspan></text></g>
<g id="n_ugm"><rect class="k" x="1632" y="2241" width="173" height="222"/><line class="kl" x1="1632" y1="2266" x2="1805" y2="2266"/><line class="kl" x1="1632" y1="2291" x2="1805" y2="2291"/><text class="c" x="1718" y="2258">Isis::UniversalGroundMap</text>
<text x="1642" y="2305">+ UniversalGroundMap()<tspan x="1642" dy="14.8">+ ~UniversalGroundMap()</tspan><tspan x="1642" dy="14.8">+ SetBand()</tspan><tspan x="1642" dy="14.8">+ SetUniversalGround()</tspan><tspan x="1642" dy="14.8">+ SetGround()</tspan><tspan x="1642" dy="14.8">+ SetGround()</tspan><tspan x="1642" dy="14.8">+ Sample()</tspan><tspan x="1642" dy="14.8">+ Line()</tspan><tspan x="1642" dy="14.8">+ SetImage()</tspan><tspan x="1642" dy="14.8">+ UniversalLatitude()</tspan><tspan x="1642" dy="14.8">and 7 more...</tspan></text></g>
<g id="n_image"><rect class="k" x="1050" y="2616" width="143" height="311"/><line class="kl" x1="1050" y1="2643" x2="1193" y2="2643"/><line class="kl" x1="1050" y1="2668" x2="1193" y2="2668"/><text class="c" x="1121" y="2634">Isis::Image</text>
<text x="1060" y="2682">+ Image()<tspan x="1060" dy="14.8">+ Image()</tspan><tspan x="1060" dy="14.8">+ Image()</tspan><tspan x="1060" dy="14.8">+ ~Image()</tspan><tspan x="1060" dy="14.8">+ fromPvl()</tspan><tspan x="1060" dy="14.8">+ toPvl()</tspan><tspan x="1060" dy="14.8">+ isFootprintable()</tspan><tspan x="1060" dy="14.8">+ cube()</tspan><tspan x="1060" dy="14.8">+ closeCube()</tspan><tspan x="1060" dy="14.8">+ displayProperties()</tspan><tspan x="1060" dy="14.8">and 20 more...</tspan><tspan x="1060" dy="14.8">+ updateFileName()</tspan><tspan x="1060" dy="14.8">- createFootprint()</tspan><tspan x="1060" dy="14.8">- initCamStats()</tspan><tspan x="1060" dy="14.8">- initQuickFootprint()</tspan><tspan x="1060" dy="14.8">- Image()</tspan><tspan x="1060" dy="14.8">- operator=()</tspan></text></g>
<g id="n_multipolygon"><rect class="g" x="1925" y="2314" width="107" height="76"/><line class="gl" x1="1925" y1="2339" x2="2032" y2="2339"/><line class="gl" x1="1925" y1="2365" x2="2032" y2="2365"/><text class="c" x="1978" y="2331">MultiPolygon *</text></g>
<g id="n_qlistpoly"><rect class="k" x="2388" y="2734" width="221" height="76"/><line class="kl" x1="2388" y1="2759" x2="2609" y2="2759"/><line class="kl" x1="2388" y1="2785" x2="2609" y2="2785"/><text class="c" x="2498" y="2751">QList&lt; QGraphicsPolygonItem * &gt;</text></g>
<g id="n_qgobject"><rect class="k" x="5" y="2734" width="123" height="76"/><line class="kl" x1="5" y1="2759" x2="128" y2="2759"/><line class="kl" x1="5" y1="2785" x2="128" y2="2785"/><text class="c" x="66" y="2751">QGraphicsObject</text></g>
<g id="n_qgstext"><rect class="g" x="153" y="2734" width="185" height="76"/><line class="gl" x1="153" y1="2759" x2="338" y2="2759"/><line class="gl" x1="153" y1="2785" x2="338" y2="2785"/><text class="c" x="245" y="2751">QGraphicsSimpleTextItem *</text></g>
<g id="n_msi"><rect class="s" x="1824" y="2993" width="188" height="398"/><line class="kl" x1="1824" y1="3018" x2="2012" y2="3018"/><line class="kl" x1="1824" y1="3043" x2="2012" y2="3043"/><text class="c" x="1918" y="3010">Isis::MosaicSceneItem</text>
<text x="1834" y="3057">+ MosaicSceneItem()<tspan x="1834" dy="14.8">+ ~MosaicSceneItem()</tspan><tspan x="1834" dy="14.8">+ boundingRect()</tspan><tspan x="1834" dy="14.8">+ paint()</tspan><tspan x="1834" dy="14.8">+ color()</tspan><tspan x="1834" dy="14.8">+ image()</tspan><tspan x="1834" dy="14.8">+ getLabel()</tspan><tspan x="1834" dy="14.8">+ reproject()</tspan><tspan x="1834" dy="14.8">+ contains()</tspan><tspan x="1834" dy="14.8">+ updateSelection()</tspan><tspan x="1834" dy="14.8">+ scenePropertiesChanged()</tspan><tspan x="1834" dy="14.8">+ cubeDisplayChanged()</tspan><tspan x="1834" dy="14.8"># sceneEvent()</tspan><tspan x="1834" dy="14.8"># contextMenuEvent()</tspan><tspan x="1834" dy="14.8">- MosaicSceneItem()</tspan><tspan x="1834" dy="14.8">- operator=()</tspan><tspan x="1834" dy="14.8">- updateChildren()</tspan><tspan x="1834" dy="14.8">- getStretch()</tspan><tspan x="1834" dy="14.8">- setupFootprint()</tspan><tspan x="1834" dy="14.8">- drawImage()</tspan><tspan x="1834" dy="14.8">- getPixelValue()</tspan><tspan x="1834" dy="14.8">- setupStretch()</tspan><tspan x="1834" dy="14.8">- lostCubeDisplay()</tspan></text></g>
</svg>
